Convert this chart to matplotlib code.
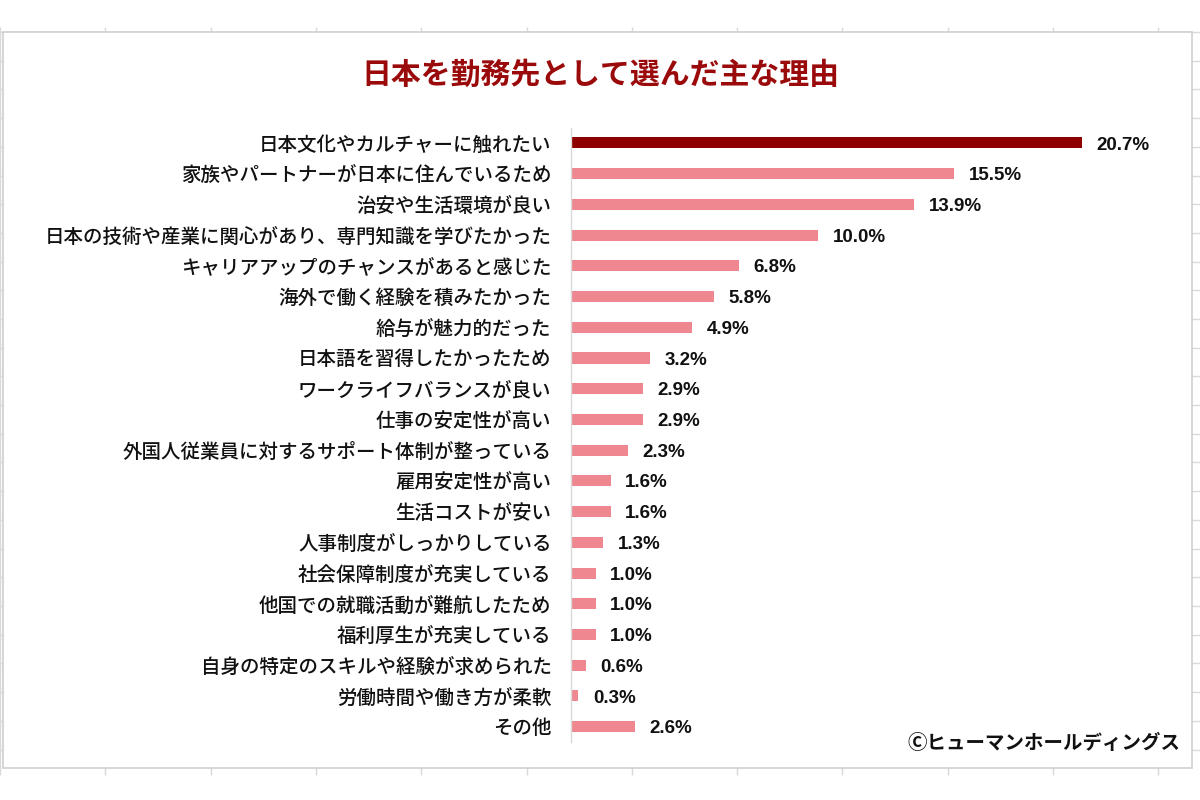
import matplotlib.pyplot as plt
from matplotlib.patches import Rectangle

plt.rcParams['font.family'] = ['Noto Sans CJK JP', 'DejaVu Sans']

# データ
reasons = [
    '日本文化やカルチャーに触れたい',
    '家族やパートナーが日本に住んでいるため',
    '治安や生活環境が良い',
    '日本の技術や産業に関心があり、専門知識を学びたかった',
    'キャリアアップのチャンスがあると感じた',
    '海外で働く経験を積みたかった',
    '給与が魅力的だった',
    '日本語を習得したかったため',
    'ワークライフバランスが良い',
    '仕事の安定性が高い',
    '外国人従業員に対するサポート体制が整っている',
    '雇用安定性が高い',
    '生活コストが安い',
    '人事制度がしっかりしている',
    '社会保障制度が充実している',
    '他国での就職活動が難航したため',
    '福利厚生が充実している',
    '自身の特定のスキルや経験が求められた',
    '労働時間や働き方が柔軟',
    'その他',
]
shares = [20.7, 15.5, 13.9, 10.0, 6.8, 5.8, 4.9, 3.2, 2.9, 2.9,
          2.3, 1.6, 1.6, 1.3, 1.0, 1.0, 1.0, 0.6, 0.3, 2.6]

TITLE = '日本を勤務先として選んだ主な理由'
CREDIT = 'Ⓒヒューマンホールディングス'

DARK_RED = '#8e0000'
PINK = '#ee8790'
GRID_GRAY = '#d9d9d9'


def draw_sheet_background(fig):
    """Excelシート風の背景（外側のセル線だけ見える）"""
    bg = fig.add_axes([0, 0, 1, 1], zorder=-10)
    bg.set_xlim(0, 1200)
    bg.set_ylim(800, 0)
    bg.axis('off')
    x = 0.0
    while x <= 1200:
        bg.vlines(x, 27, 775, color=GRID_GRAY, lw=1)
        x += 105.3
    y = 32.0
    while y <= 775:
        bg.hlines(y, 0, 1200, color=GRID_GRAY, lw=1)
        y += 28.7
    bg.add_patch(Rectangle((3, 32), 1189, 736, facecolor='white',
                           edgecolor='#cfcfcf', lw=1.2, zorder=2))


def main():
    fig = plt.figure(figsize=(12, 8), dpi=100)
    draw_sheet_background(fig)

    ax = fig.add_axes([571 / 1200, 0.0725, 592.8 / 1200, 0.768])
    ax.patch.set_alpha(0)

    pos = list(range(len(reasons)))
    colors = [DARK_RED] + [PINK] * (len(reasons) - 1)
    bars = ax.barh(pos, shares, height=0.36, color=colors)

    ax.set_xlim(0, 24)
    ax.set_ylim(len(reasons) - 0.5, -0.5)
    ax.set_yticks(pos)
    ax.set_yticklabels(reasons, fontsize=14, fontweight='medium', color='#111111')
    ax.tick_params(axis='y', length=0, pad=14)
    ax.set_xticks([])

    for side in ['top', 'right', 'bottom']:
        ax.spines[side].set_visible(False)
    ax.spines['left'].set_color(GRID_GRAY)
    ax.spines['left'].set_linewidth(1)

    for bar, v in zip(bars, shares):
        ax.annotate(f'{v:.1f}%', xy=(bar.get_width(), bar.get_y() + bar.get_height() / 2),
                    xytext=(10.5, -1.5), textcoords='offset points', va='center', ha='left',
                    fontsize=13.5, fontweight='bold', color='#111111',
                    family=['Liberation Sans', 'DejaVu Sans'])

    fig.text(0.5, 1 - 75 / 800, TITLE, ha='center', va='center',
             fontsize=21.5, fontweight='bold', color='#9b0a0a')
    fig.text(1180 / 1200, 1 - 743 / 800, CREDIT, ha='right', va='center',
             fontsize=14, fontweight='bold', color='#111111',
             family=['Noto Sans CJK JP', 'DejaVu Sans'])

    fig.savefig('out.png', dpi=100)


if __name__ == '__main__':
    main()
